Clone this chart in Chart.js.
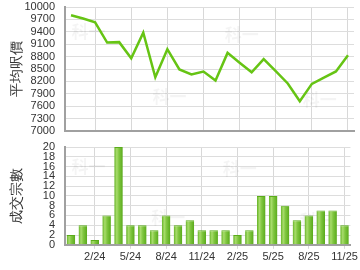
<!DOCTYPE html>
<html>
<head>
<meta charset="utf-8">
<script src="https://cdn.jsdelivr.net/npm/chart.js@4"></script>
<style>
html,body{margin:0;padding:0;background:#fff;}
#wrap{position:relative;width:360px;height:270px;overflow:hidden;}
#c1{position:absolute;left:0;top:0;}
#c2{position:absolute;left:0;top:140px;}
</style>
</head>
<body>
<div id="wrap">
<canvas id="c1" width="360" height="140" style="width:360px;height:140px"></canvas>
<canvas id="c2" width="360" height="130" style="width:360px;height:130px"></canvas>
</div>
<script>
const months = ['12/23','1/24','2/24','3/24','4/24','5/24','6/24','7/24','8/24','9/24','10/24','11/24','12/24','1/25','2/25','3/25','4/25','5/25','6/25','7/25','8/25','9/25','10/25','11/25'];
const avgPrice = [9800,9720,9630,9140,9150,8760,9380,8300,8980,8490,8370,8440,8220,8890,8650,8420,8740,8450,8150,7720,8140,8290,8440,8830];
const deals = [2,4,1,6,20,4,4,3,6,4,5,3,3,3,2,3,10,10,8,5,6,7,7,4];
const priceTicks = [7000,7300,7600,7900,8200,8500,8800,9100,9400,9700,10000];
const dealTicks = [0,2,4,6,8,10,12,14,16,18,20];
const labelEvery = 3, labelStart = 2;
const watermarkText = '科一';

Chart.defaults.font.family = '"Liberation Sans", Arial, sans-serif';
Chart.defaults.color = '#333';
Chart.defaults.animation = false;

const isLab = i => (i - labelStart) % labelEvery === 0 && i >= labelStart;
const gridCol = ctx => isLab(ctx.index) ? '#d8d8d8' : 'rgba(0,0,0,0)';

// faint watermark behind the data, placed relative to the chart area
const watermark = {
  id: 'watermark',
  beforeDatasetsDraw(chart) {
    const a = chart.chartArea, c = chart.ctx;
    c.save();
    c.font = 'bold 17px "Noto Sans CJK TC", sans-serif';
    c.fillStyle = 'rgba(0,0,0,0.045)';
    c.textAlign = 'center';
    c.textBaseline = 'middle';
    const w = a.right - a.left, h = a.bottom - a.top;
    [[0.04, 0.20], [0.32, 0.72], [0.57, 0.22], [0.84, 0.75]].forEach(p => {
      c.fillText(watermarkText, a.left + w * p[0] + 12, a.top + h * p[1]);
    });
    c.restore();
  }
};

function yScale(min, max, ticksArr, title) {
  return {
    min: min, max: max,
    afterBuildTicks: s => { s.ticks = ticksArr.map(v => ({value: v})); },
    afterFit: s => { s.width = 65; },
    grid: { color: '#dddddd', drawTicks: true, tickLength: 10, tickColor: 'rgba(0,0,0,0)', lineWidth: 1 },
    border: { color: '#a0a0a0', width: 2 },
    ticks: { padding: 0, autoSkip: false, font: { size: 11 }, color: '#333', callback: v => String(v) },
    title: { display: true, text: title, font: { size: 14 }, color: '#333', padding: { top: 9, bottom: 0 } }
  };
}

new Chart(document.getElementById('c1'), {
  type: 'line',
  data: { labels: months, datasets: [{
    data: avgPrice, borderColor: '#66c414', borderWidth: 2.5, pointRadius: 0,
    tension: 0, fill: false
  }]},
  options: {
    responsive: false, maintainAspectRatio: false,
    layout: { padding: { top: 7, right: 6, bottom: 9, left: 0 } },
    plugins: { legend: { display: false }, tooltip: { enabled: false } },
    scales: {
      x: { type: 'category', offset: true,
        grid: { offset: false, color: gridCol, drawTicks: false },
        border: { color: '#a0a0a0', width: 2 },
        ticks: { display: false, autoSkip: false } },
      y: yScale(7000, 10000, priceTicks, '平均呎價')
    }
  },
  plugins: [watermark]
});

function barFill(ctx) {
  const chart = ctx.chart;
  if (!chart.chartArea) return '#7cc43a';
  const x = chart.scales.x.getPixelForValue(ctx.dataIndex);
  const w = 9;
  const g = chart.ctx.createLinearGradient(x - w/2, 0, x + w/2, 0);
  g.addColorStop(0, '#5cae1c');
  g.addColorStop(0.3, '#a8dc6c');
  g.addColorStop(0.55, '#80c640');
  g.addColorStop(1, '#56a818');
  return g;
}

new Chart(document.getElementById('c2'), {
  type: 'bar',
  data: { labels: months, datasets: [{
    data: deals, backgroundColor: barFill, borderColor: '#5aac1a', borderWidth: {top: 1, left: 0, right: 0, bottom: 0},
    categoryPercentage: 1, barPercentage: 0.72
  }]},
  options: {
    responsive: false, maintainAspectRatio: false,
    layout: { padding: { top: 7, right: 6, bottom: 4, left: 0 } },
    plugins: { legend: { display: false }, tooltip: { enabled: false } },
    scales: {
      x: { type: 'category', offset: true,
        grid: { offset: false, color: gridCol, tickColor: gridCol, tickLength: 4 },
        border: { color: '#a0a0a0', width: 2 },
        ticks: { autoSkip: false, maxRotation: 0, padding: 2, font: { size: 11 }, color: '#333',
          callback: (v, i) => isLab(i) ? months[i] : '' } },
      y: yScale(0, 20, dealTicks, '成交宗數')
    }
  },
  plugins: [watermark]
});
</script>
</body>
</html>
